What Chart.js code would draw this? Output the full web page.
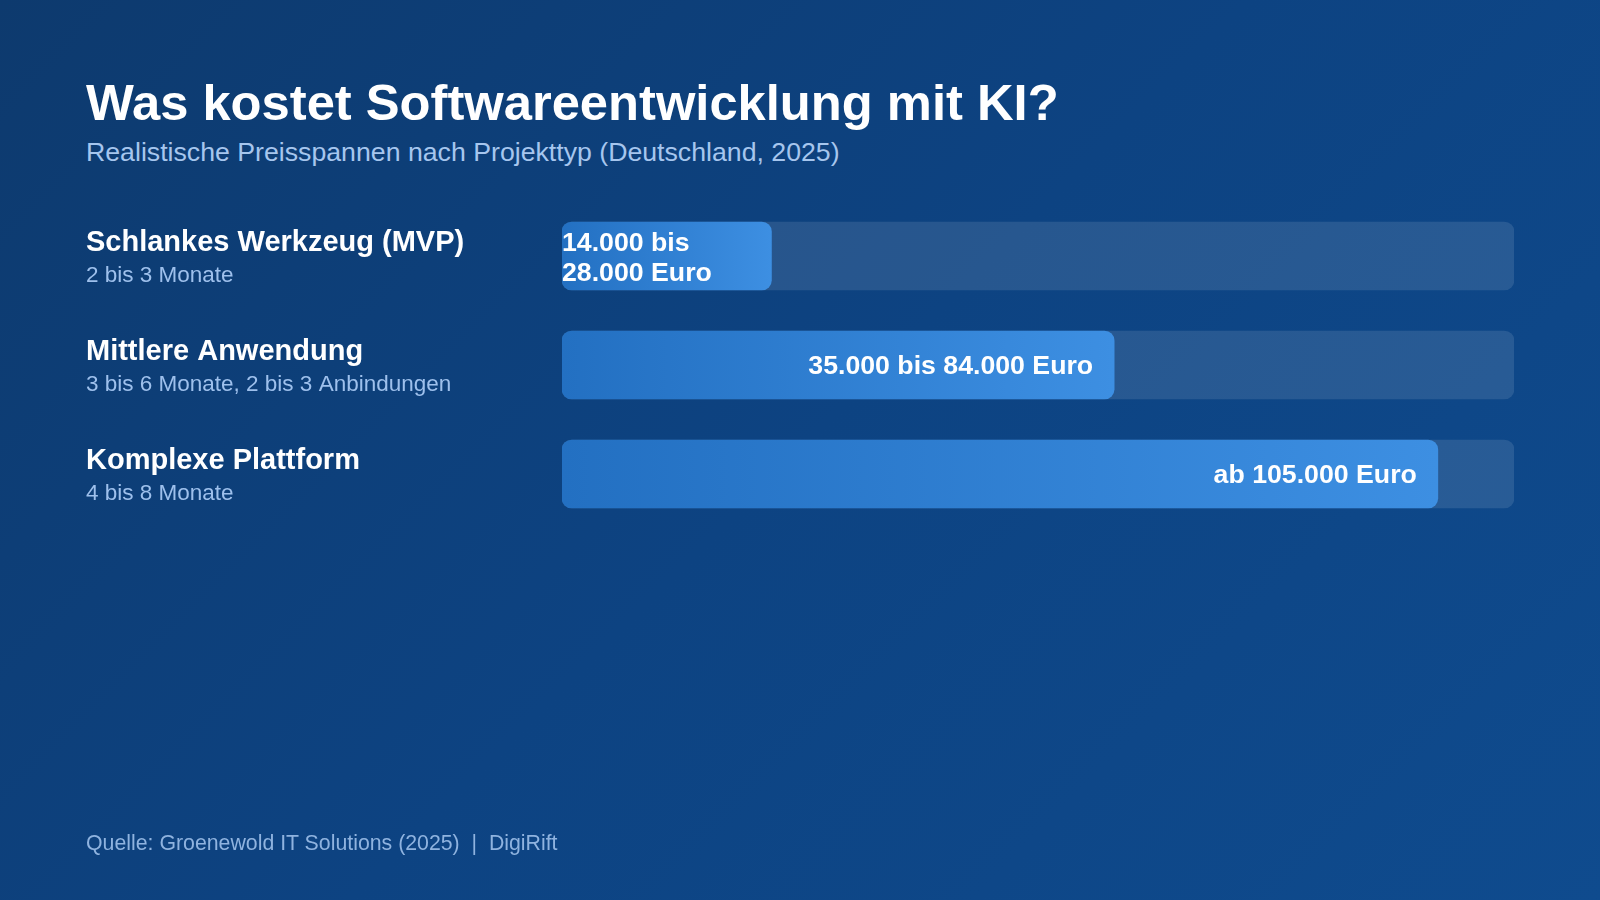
<!DOCTYPE html>
<html lang="de">
<head>
<meta charset="UTF-8">
<title>Was kostet Softwareentwicklung mit KI?</title>
<script src="https://cdn.jsdelivr.net/npm/chart.js"></script>
<style>
    html, body { margin: 0; padding: 0; }
    body {
        width: 1600px; height: 900px; overflow: hidden; position: relative;
        background: linear-gradient(135deg, #0d3a6e 0%, #0d4382 50%, #0f4b8e 100%);
        font-family: "Liberation Sans", Arial, Helvetica, sans-serif;
    }
    #titel { position: absolute; left: 86px; top: 77px; font-size: 50.7px; line-height: 51px; font-weight: bold; color: #ffffff; }
    #untertitel { position: absolute; left: 86px; top: 139px; font-size: 26.7px; line-height: 26.7px; color: #a6c6ee; }
    #quelle { position: absolute; left: 86px; top: 833px; font-size: 21.3px; line-height: 21.3px; color: #8fb3df; white-space: pre; }
    #grafik { position: absolute; left: 0; top: 0; }
</style>
</head>
<body>
<div id="titel">Was kostet Softwareentwicklung mit KI?</div>
<div id="untertitel">Realistische Preisspannen nach Projekttyp (Deutschland, 2025)</div>
<canvas id="grafik" width="1600" height="900"></canvas>
<div id="quelle">Quelle: Groenewold IT Solutions (2025)  |  DigiRift</div>

<script>
// Daten aus der Vorlage
const projekttypen = ["Schlankes Werkzeug (MVP)", "Mittlere Anwendung", "Komplexe Plattform"];
const laufzeiten = ["2 bis 3 Monate", "3 bis 6 Monate, 2 bis 3 Anbindungen", "4 bis 8 Monate"];
const preisTexte = [["14.000 bis", "28.000 Euro"], ["35.000 bis 84.000 Euro"], ["ab 105.000 Euro"]];
const balkenAnteil = [22, 58, 92];      // Füllung in % der Spur
const spurAnteil = [100, 100, 100];

const schrift = '"Liberation Sans", Arial, Helvetica, sans-serif';

const beschriftung = {
    id: "beschriftung",
    afterDatasetsDraw(chart) {
        const ctx = chart.ctx;
        const x = chart.scales.x;
        const y = chart.scales.y;
        ctx.save();
        projekttypen.forEach((name, i) => {
            const mitte = y.getPixelForValue(i);

            // Projekttyp + Laufzeit links
            ctx.textAlign = "left";
            ctx.textBaseline = "alphabetic";
            ctx.fillStyle = "#ffffff";
            ctx.font = "bold 29px " + schrift;
            ctx.fillText(name, 86, mitte - 5);
            ctx.fillStyle = "#9ec0ec";
            ctx.font = "22.5px " + schrift;
            ctx.fillText(laufzeiten[i], 86, mitte + 26);

            // Preis im Balken
            const start = x.getPixelForValue(0);
            const ende = x.getPixelForValue(balkenAnteil[i]);
            const zeilen = preisTexte[i];
            ctx.fillStyle = "#ffffff";
            ctx.font = "bold 26.7px " + schrift;
            if (zeilen.length > 1) {
                ctx.textAlign = "left";
                zeilen.forEach((z, k) => ctx.fillText(z, start, mitte - 5 + k * 30));
            } else {
                ctx.textAlign = "right";
                ctx.fillText(zeilen[0], ende - 21, mitte + 9);
            }
        });
        ctx.restore();
    }
};

function fuellung(context) {
    const chart = context.chart;
    if (!chart.chartArea || context.type !== "data") return "#2f7fd2";
    const x = chart.scales.x;
    const x0 = x.getPixelForValue(0);
    const x1 = x.getPixelForValue(balkenAnteil[context.dataIndex]);
    const g = chart.ctx.createLinearGradient(x0, 0, x1, 0);
    g.addColorStop(0, "#2370c2");
    g.addColorStop(1, "#3d8fe2");
    return g;
}

new Chart(document.getElementById("grafik"), {
    type: "bar",
    data: {
        labels: projekttypen,
        datasets: [
            {
                label: "Preisspanne",
                data: balkenAnteil,
                backgroundColor: fuellung,
                borderRadius: 10,
                borderSkipped: false,
                barThickness: 68,
                grouped: false,
                order: 0
            },
            {
                label: "Spur",
                data: spurAnteil,
                backgroundColor: "rgba(255,255,255,0.11)",
                borderRadius: 10,
                borderSkipped: false,
                barThickness: 68,
                grouped: false,
                order: 1
            }
        ]
    },
    options: {
        indexAxis: "y",
        responsive: false,
        animation: false,
        devicePixelRatio: 1,
        layout: { padding: { left: 562, right: 86, top: 201.5, bottom: 371.5 } },
        scales: {
            x: { display: false, min: 0, max: 100 },
            y: { display: false }
        },
        plugins: {
            legend: { display: false },
            tooltip: { enabled: false }
        }
    },
    plugins: [beschriftung]
});
</script>
</body>
</html>
